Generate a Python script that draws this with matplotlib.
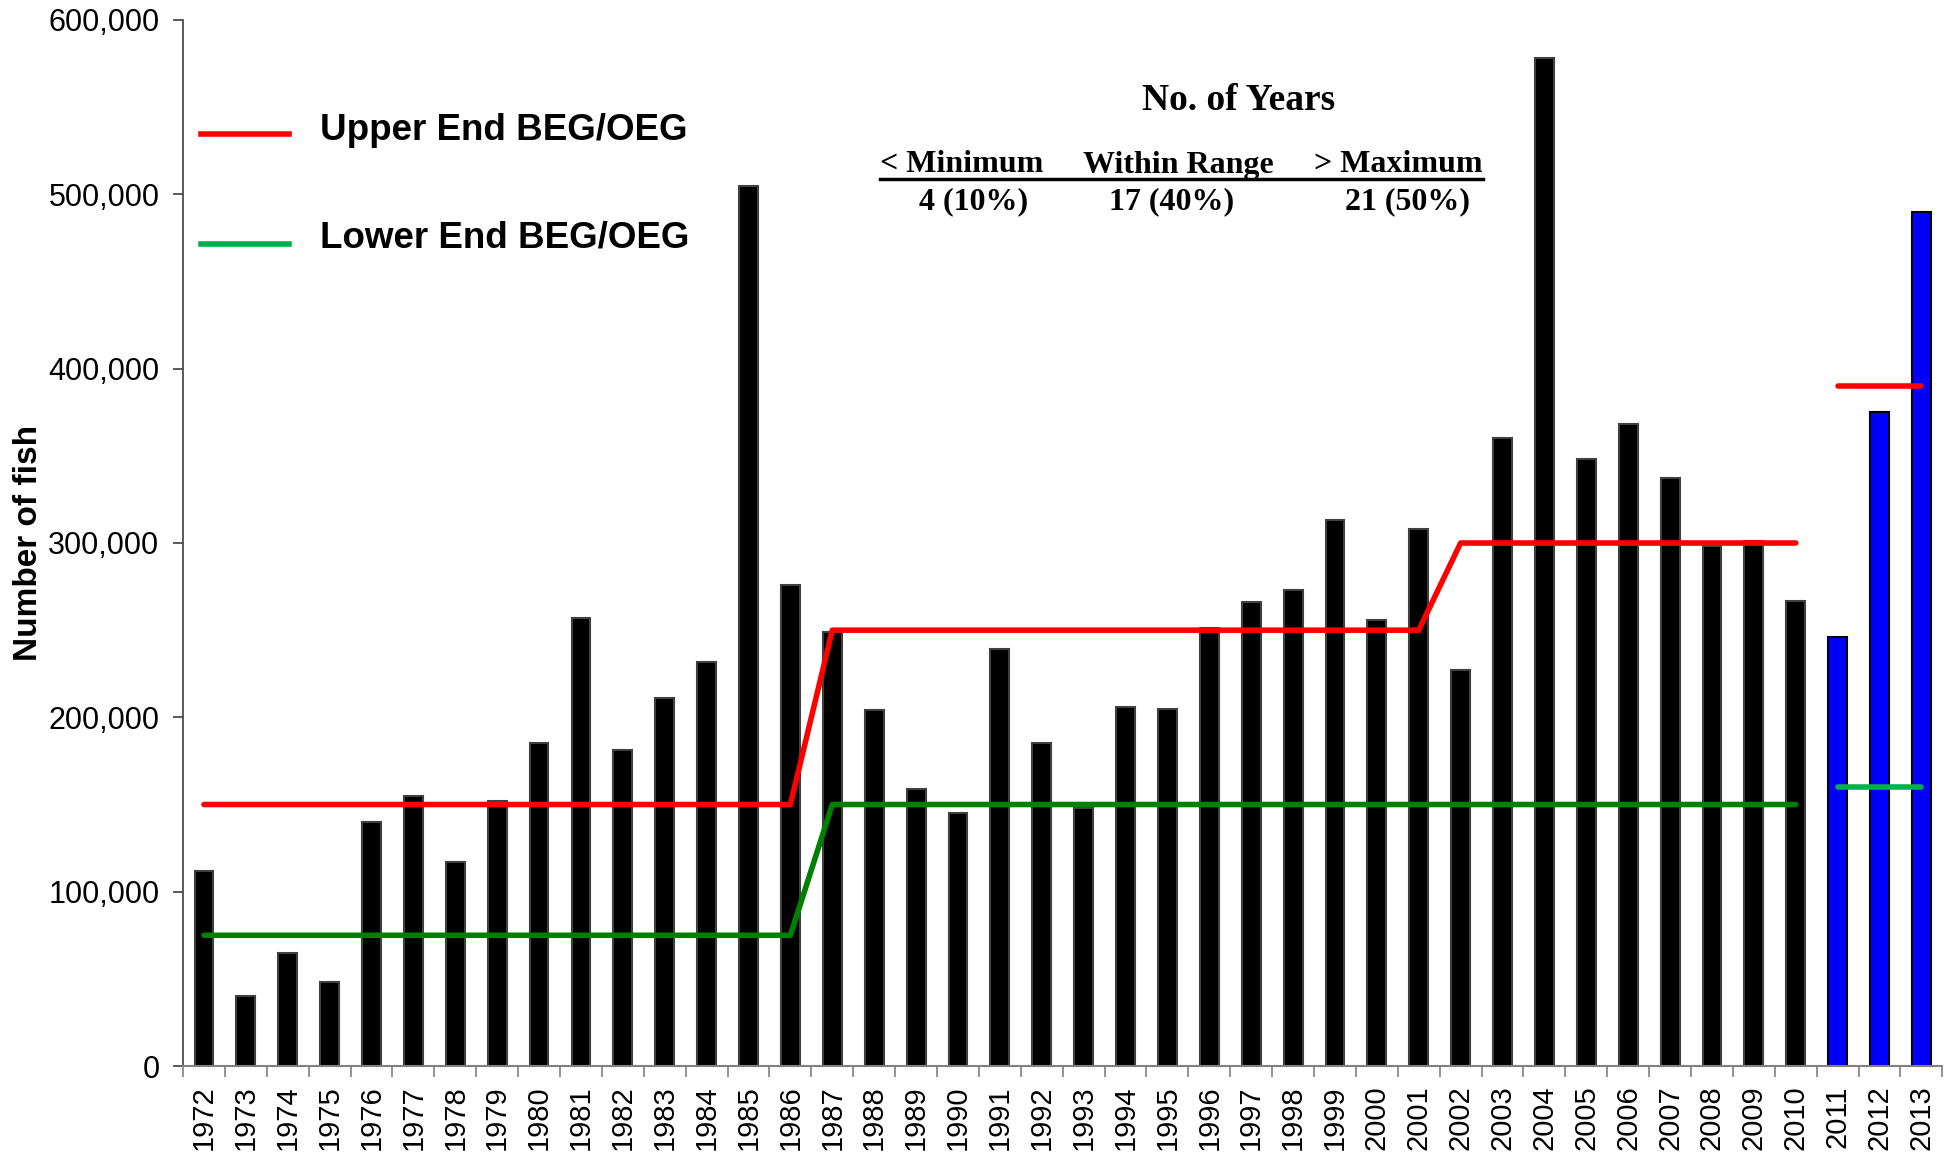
import numpy as np
import matplotlib
matplotlib.use("Agg")
import matplotlib.pyplot as plt

years = list(range(1972, 2014))
counts = [112000, 40000, 65000, 48000, 140000, 155000, 117000, 152000, 185000, 257000,
          181000, 211000, 232000, 505000, 276000, 249000, 204000, 159000, 145000, 239000,
          185000, 148000, 206000, 205000, 251000, 266000, 273000, 313000, 256000, 308000,
          227000, 360000, 578000, 348000, 368000, 337000, 298000, 301000, 267000, 246000,
          375000, 490000]
# 1972-2010 goal range
upper_old = [150000, 150000, 150000, 150000, 150000, 150000, 150000, 150000, 150000, 150000,
             150000, 150000, 150000, 150000, 150000, 250000, 250000, 250000, 250000, 250000,
             250000, 250000, 250000, 250000, 250000, 250000, 250000, 250000, 250000, 250000,
             300000, 300000, 300000, 300000, 300000, 300000, 300000, 300000, 300000]
lower_old = [75000, 75000, 75000, 75000, 75000, 75000, 75000, 75000, 75000, 75000,
             75000, 75000, 75000, 75000, 75000, 150000, 150000, 150000, 150000, 150000,
             150000, 150000, 150000, 150000, 150000, 150000, 150000, 150000, 150000, 150000,
             150000, 150000, 150000, 150000, 150000, 150000, 150000, 150000, 150000]
# 2011-2013 goal range
upper_new = [390000, 390000, 390000]
lower_new = [160000, 160000, 160000]

headers = ["< Minimum", "Within Range", "> Maximum"]
summary = ["4 (10%)", "17 (40%)", "21 (50%)"]

x = np.arange(len(years))
n_old = len(upper_old)
bar_colors = ["black"] * n_old + ["#0000FF"] * (len(years) - n_old)
edge_colors = ["#404040"] * n_old + ["black"] * (len(years) - n_old)

plt.rcParams['font.family'] = ['Liberation Sans', 'DejaVu Sans']

fig = plt.figure(figsize=(19.49, 11.6), dpi=100)
ax = fig.add_axes([0.0939, 0.081, 0.9027, 0.9018])

ax.bar(x, counts, width=0.45, color=bar_colors, edgecolor=edge_colors, linewidth=1.5, zorder=2)

ax.plot(x[:n_old], upper_old, color="#FF0000", lw=4, solid_capstyle="round", solid_joinstyle="round", zorder=3)
ax.plot(x[:n_old], lower_old, color="#008000", lw=4, solid_capstyle="round", solid_joinstyle="round", zorder=3)
ax.plot(x[n_old:], upper_new, color="#FF0000", lw=4, solid_capstyle="round", zorder=3)
ax.plot(x[n_old:], lower_new, color="#00B050", lw=4, solid_capstyle="round", zorder=3)

ax.set_xlim(-0.5, len(years) - 0.5)
ax.set_ylim(0, 600000)
ax.set_yticks(np.arange(0, 600001, 100000))
ax.set_yticklabels(["{:,}".format(v) for v in range(0, 600001, 100000)], fontsize=22)
ax.set_xticks(x)
ax.set_xticklabels([str(y) for y in years], rotation=90, fontsize=21)
ax.set_xticks(np.arange(-0.5, len(years), 1.0), minor=True)
ax.tick_params(axis='x', which='major', length=0, pad=14)
ax.tick_params(axis='x', which='minor', length=8, width=1.2, color="#808080", direction="out")
ax.tick_params(axis='y', which='major', length=7, width=1.2, pad=10, color="#404040", direction="out")

for s in ["top", "right"]:
    ax.spines[s].set_visible(False)
ax.spines["left"].set_color("#404040")
ax.spines["left"].set_linewidth(1.2)
ax.spines["bottom"].set_color("#808080")
ax.spines["bottom"].set_linewidth(1.5)

ax.set_ylabel("Number of fish", fontsize=24, fontweight="bold")
ax.yaxis.set_label_coords(-0.079, 0.5)

# legend drawn by hand
ax.plot([0.0103, 0.0605], [0.891, 0.891], transform=ax.transAxes, color="#FF0000", lw=4, clip_on=False)
ax.plot([0.0103, 0.0605], [0.786, 0.786], transform=ax.transAxes, color="#00B050", lw=4, clip_on=False)
ax.text(0.078, 0.894, "Upper End BEG/OEG", transform=ax.transAxes, fontsize=26.5, fontweight="bold", va="center")
ax.text(0.078, 0.792, "Lower End BEG/OEG", transform=ax.transAxes, fontsize=26.5, fontweight="bold", va="center")

# summary table
serif = {"family": ["Liberation Serif", "DejaVu Serif"], "weight": "bold"}
fig.text(1239 / 1949, 1 - 101 / 1160, "No. of Years", fontdict=serif, fontsize=27, ha="center", va="center")
hx = [962, 1178, 1398]
vx = [974, 1172, 1408]
for h, v, a, b in zip(headers, summary, hx, vx):
    fig.text(a / 1949, 1 - 165 / 1160, h, fontdict=serif, fontsize=23, ha="center", va="center")
    fig.text(b / 1949, 1 - 202 / 1160, v, fontdict=serif, fontsize=23, ha="center", va="center")
fig.add_artist(plt.Line2D([880 / 1949, 1483 / 1949], [1 - 179 / 1160, 1 - 179 / 1160],
                          color="black", lw=2.5, transform=fig.transFigure))

fig.savefig("out.png", dpi=100)
